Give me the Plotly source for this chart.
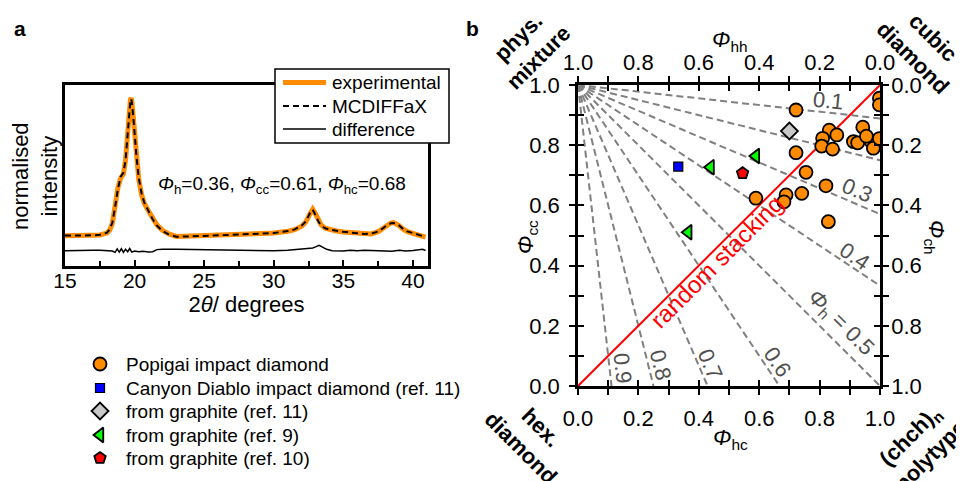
import plotly.graph_objects as go

# ---------------- panel a data ----------------
two_theta = [15.0, 15.5, 16.0, 16.5, 17.0, 17.5, 18.0, 18.2, 18.4, 18.6, 18.8, 19.0, 19.2, 19.35,
             19.5, 19.6, 19.7, 19.75, 19.8, 19.9, 20.0, 20.15, 20.3, 20.5, 20.7, 21.0, 21.3, 21.6,
             22.0, 22.5, 23.0, 24.0, 25.0, 26.0, 27.0, 28.0, 29.0, 30.0, 31.0, 31.5, 32.0, 32.3,
             32.6, 32.8, 33.0, 33.2, 33.4, 33.7, 34.0, 34.5, 35.0, 36.0, 36.5, 37.0, 37.5, 37.8,
             38.1, 38.4, 38.6, 38.8, 39.0, 39.3, 39.6, 40.0, 40.4, 40.9]
experimental = [0.0, 0.0, -0.003, 0.002, 0.003, 0.006, 0.02, 0.04, 0.09, 0.22, 0.35, 0.42, 0.45, 0.55,
                0.77, 0.9, 0.99, 1.0, 0.98, 0.87, 0.73, 0.55, 0.41, 0.30, 0.235, 0.18, 0.125, 0.08,
                0.04, 0.012, -0.004, 0.0, 0.004, 0.008, 0.012, 0.016, 0.018, 0.02, 0.034, 0.045, 0.07, 0.10,
                0.16, 0.193, 0.16, 0.115, 0.08, 0.055, 0.045, 0.035, 0.028, 0.018, 0.012, 0.014, 0.03, 0.05,
                0.075, 0.093, 0.096, 0.088, 0.075, 0.048, 0.03, 0.018, 0.008, -0.01]
mcdiffax = [0.002, 0.002, 0.0, 0.002, 0.004, 0.008, 0.022, 0.045, 0.095, 0.21, 0.34, 0.43, 0.46, 0.55,
            0.76, 0.9, 0.985, 0.995, 0.975, 0.87, 0.73, 0.56, 0.42, 0.31, 0.24, 0.18, 0.12, 0.075,
            0.035, 0.008, -0.006, -0.004, 0.0, 0.005, 0.01, 0.014, 0.017, 0.02, 0.035, 0.047, 0.073, 0.105,
            0.165, 0.19, 0.15, 0.105, 0.075, 0.055, 0.046, 0.036, 0.029, 0.019, 0.014, 0.016, 0.032, 0.052,
            0.076, 0.091, 0.094, 0.088, 0.076, 0.05, 0.032, 0.02, 0.008, -0.008]
two_theta_diff = [15.0, 15.5, 16.0, 16.5, 17.0, 17.5, 18.0, 18.4, 18.6, 18.75, 18.9, 19.05, 19.2, 19.35,
                  19.5, 19.65, 19.8, 20.0, 20.3, 20.6, 21.0, 21.3, 21.6, 22.0, 23.0, 24.0, 25.0, 26.0,
                  27.0, 28.0, 29.0, 30.0, 31.0, 31.5, 32.0, 32.4, 32.8, 33.0, 33.25, 33.5, 33.8, 34.2,
                  35.0, 35.5, 36.0, 36.5, 37.0, 37.5, 38.0, 38.5, 39.0, 39.5, 40.0, 40.5, 40.7, 40.9]
difference = [-0.108, -0.106, -0.108, -0.105, -0.104, -0.104, -0.106, -0.11, -0.12, -0.095, -0.118, -0.094,
              -0.12, -0.097, -0.115, -0.092, -0.118, -0.11, -0.115, -0.112, -0.118, -0.115, -0.10, -0.097,
              -0.098, -0.10, -0.103, -0.105, -0.105, -0.108, -0.11, -0.108, -0.105, -0.10, -0.095, -0.09,
              -0.088, -0.08, -0.068, -0.082, -0.098, -0.108, -0.11, -0.105, -0.108, -0.105, -0.107, -0.11,
              -0.11, -0.112, -0.105, -0.11, -0.106, -0.104, -0.098, -0.106]

# ---------------- panel b data ----------------
popigai_hc = [0.722, 0.832, 0.857, 0.810, 0.807, 0.843, 0.722, 0.755, 0.821, 0.741, 0.689, 0.682,
              0.589, 0.829, 0.943, 0.912, 0.926, 0.969, 0.978, 0.998, 0.998, 0.998, 0.955]
popigai_cc = [0.917, 0.850, 0.834, 0.823, 0.797, 0.787, 0.775, 0.710, 0.665, 0.640, 0.635, 0.612,
              0.624, 0.546, 0.860, 0.812, 0.808, 0.815, 0.790, 0.956, 0.934, 0.822, 0.830]
canyon_hc = [0.332]
canyon_cc = [0.729]
graphite11_hc = [0.700]
graphite11_cc = [0.847]
graphite9_hc = [0.589, 0.439, 0.365]
graphite9_cc = [0.764, 0.727, 0.511]
graphite10_hc = [0.545]
graphite10_cc = [0.707]

# iso-Phi_h lines: all start at (Phi_hc=0, Phi_cc=1)
iso_levels = ["0.1", "0.2", "0.3", "0.4", "0.5", "0.6", "0.7", "0.8", "0.9"]
iso_end_hc = [1.0, 1.0, 1.0, 1.0, 1.0, 0.667, 0.429, 0.25, 0.111]
iso_end_cc = [0.889, 0.75, 0.571, 0.333, 0.0, 0.0, 0.0, 0.0, 0.0]
random_hc = [0.0, 1.0]
random_cc = [0.0, 1.0]

legend_a_names = ["experimental", "MCDIFFaX", "difference"]
legend_b_names = ["Popigai impact diamond", "Canyon Diablo impact diamond (ref. 11)",
                  "from graphite (ref. 11)", "from graphite (ref. 9)", "from graphite (ref. 10)"]

FONT = "Arial, Liberation Sans, sans-serif"
ORANGE = "#FF8C00"
PAGE_W, PAGE_H = 964, 481
OFF = 8  # default body margin of the html page
W, H = PAGE_W - OFF, PAGE_H - OFF


def px(x):
    return (x - OFF) / W


def py(y):
    return 1 - (y - OFF) / H


fig = go.Figure()

# panel a
line_styles_a = [dict(color=ORANGE, width=5), dict(color="black", width=2, dash="6px,4px"),
                 dict(color="black", width=1.5)]
fig.add_trace(go.Scatter(x=two_theta, y=experimental, mode="lines", name=legend_a_names[0],
                         line=line_styles_a[0], xaxis="x", yaxis="y", showlegend=False))
fig.add_trace(go.Scatter(x=two_theta, y=mcdiffax, mode="lines", name=legend_a_names[1],
                         line=line_styles_a[1], xaxis="x", yaxis="y", showlegend=False))
fig.add_trace(go.Scatter(x=two_theta_diff, y=difference, mode="lines", name=legend_a_names[2],
                         line=line_styles_a[2], xaxis="x", yaxis="y", showlegend=False))

# panel b lines
for lev, ehc, ecc in zip(iso_levels, iso_end_hc, iso_end_cc):
    fig.add_trace(go.Scatter(x=[0.0, ehc], y=[1.0, ecc], mode="lines", showlegend=False,
                             name="Φh = " + lev,
                             line=dict(color="#808080", width=2, dash="7px,4px"),
                             xaxis="x2", yaxis="y2", hoverinfo="skip"))
fig.add_trace(go.Scatter(x=random_hc, y=random_cc, mode="lines", showlegend=False, name="random stacking",
                         line=dict(color="#FF0000", width=2), xaxis="x2", yaxis="y2"))

mline = dict(color="black", width=1.8)
marker_styles = [
    dict(symbol="circle", size=13, color=ORANGE, line=mline),
    dict(symbol="square", size=9, color="#0000FF", line=dict(color="black", width=1.2)),
    dict(symbol="diamond", size=13, color="#C8C8C8", line=mline),
    dict(symbol="triangle-left", size=13, color="#00FF00", line=mline),
    dict(symbol="pentagon", size=12, color="#FF0000", line=mline),
]
series_b = [(popigai_hc, popigai_cc), (canyon_hc, canyon_cc), (graphite11_hc, graphite11_cc),
            (graphite9_hc, graphite9_cc), (graphite10_hc, graphite10_cc)]
for (xs, ys), name, ms in zip(series_b, legend_b_names, marker_styles):
    fig.add_trace(go.Scatter(x=xs, y=ys, mode="markers", name=name, marker=ms,
                             xaxis="x2", yaxis="y2", showlegend=False))

# register the secondary (top / right) axes of panel b
fig.add_trace(go.Scatter(x=[], y=[], xaxis="x3", yaxis="y3", showlegend=False, hoverinfo="skip"))

# legend keys of panel b (helper axis in page pixels)
leg_b_x = 100
leg_b_rows = [364, 388, 411, 435, 458]
for yy, name, ms in zip(leg_b_rows, legend_b_names, marker_styles):
    fig.add_trace(go.Scatter(x=[leg_b_x], y=[yy], mode="markers", marker=ms, name=name,
                             xaxis="x4", yaxis="y4", showlegend=False, hoverinfo="skip"))

tickfont_a = dict(family=FONT, size=21, color="black")
tickfont_b = dict(family=FONT, size=22, color="black")
title_font = dict(family=FONT, size=22, color="black")
common_b = dict(range=[0, 1], dtick=0.2, tick0=0, tickformat=".1f", showgrid=False, zeroline=False,
                showline=True, linecolor="black", linewidth=2.5, tickwidth=2, ticklen=6,
                tickcolor="black", tickfont=tickfont_b, mirror="ticks", automargin=False)
minor_out = dict(ticks="outside", dtick=0.1, ticklen=6, tickwidth=2, tickcolor="black")
minor_in = dict(ticks="inside", dtick=0.1, ticklen=6, tickwidth=2, tickcolor="black")

fig.update_layout(
    width=W, height=H, margin=dict(l=0, r=0, t=0, b=0, pad=0, autoexpand=False),
    paper_bgcolor="white", plot_bgcolor="rgba(0,0,0,0)",
    font=dict(family=FONT, color="black"),
    showlegend=False,
    xaxis=dict(domain=[px(65), px(428)], range=[15, 41.08], anchor="y", dtick=5, tick0=15,
               showline=True, linecolor="black", linewidth=2.5, mirror=True, ticks="inside",
               ticklen=6, tickwidth=2, tickcolor="black", automargin=False,
               minor=dict(ticks="inside", dtick=2.5, tick0=15, ticklen=5, tickwidth=2, tickcolor="black"),
               showgrid=False, zeroline=False, tickfont=tickfont_a, ticklabelstandoff=-6,
               title=dict(text="2<i>θ</i>/ degrees", font=title_font, standoff=0)),
    yaxis=dict(domain=[py(266), py(85)], range=[-0.219, 1.096], anchor="x", showline=True,
               linecolor="black", linewidth=2.5, mirror=True, ticks="", showticklabels=False,
               showgrid=False, zeroline=False, automargin=False),
    xaxis2=dict(domain=[px(578), px(880)], anchor="y2", ticks="outside", ticklabelstandoff=5,
                minor=minor_out, **common_b),
    xaxis3=dict(overlaying="x2", side="top", anchor="y2", ticks="inside", ticklabelstandoff=3,
                minor=minor_in, **{**common_b, "range": [1, 0]}),
    yaxis2=dict(domain=[py(386), py(85)], anchor="x2", ticks="outside", ticklabelstandoff=5,
                minor=minor_out, **common_b),
    yaxis3=dict(overlaying="y2", side="right", anchor="x2", ticks="inside", ticklabelstandoff=4,
                minor=minor_in, **{**common_b, "range": [1, 0]}),
    xaxis4=dict(domain=[0, 1], range=[OFF, PAGE_W], anchor="y4", visible=False, fixedrange=True,
                automargin=False),
    yaxis4=dict(domain=[0, 1], range=[PAGE_H, OFF], anchor="x4", visible=False, fixedrange=True,
                automargin=False),
)

shapes = []
# legend box of panel a
shapes.append(dict(type="rect", xref="paper", yref="paper", x0=px(275), x1=px(449), y0=py(143), y1=py(69),
                   line=dict(color="black", width=1.5), fillcolor="white", layer="above"))
leg_a_rows = [82.5, 106, 129]
for yy, st in zip(leg_a_rows, line_styles_a):
    shapes.append(dict(type="line", xref="paper", yref="paper", x0=px(283), x1=px(326), y0=py(yy), y1=py(yy),
                       line=st, layer="above"))
fig.update_layout(shapes=shapes)

ann = []


def a(text, x, y, size=22, angle=0, color="black", xref="paper", yref="paper", xanchor="center"):
    ann.append(dict(text=text, x=x, y=y, xref=xref, yref=yref, showarrow=False, textangle=angle,
                    font=dict(family=FONT, size=size, color=color), xanchor=xanchor, yanchor="middle"))


for yy, name in zip(leg_a_rows, legend_a_names):
    a(name, px(330), py(yy), size=19, xanchor="left")
for yy, name in zip(leg_b_rows, legend_b_names):
    a(name, px(124), py(yy), size=19, xanchor="left")

a("normalised<br>intensity", px(35), py(176), size=22, angle=-90)
a("<b>a</b>", px(20), py(28), size=21)
a("<b>b</b>", px(472), py(28), size=21)
a("<i>Φ</i><sub>h</sub>=0.36, <i>Φ</i><sub>cc</sub>=0.61, <i>Φ</i><sub>hc</sub>=0.68", px(282), py(185), size=19)

# panel b axis titles
a("<i>Φ</i><sub>hh</sub>", px(730), py(41), size=22)
a("<i>Φ</i><sub>hc</sub>", px(730), py(439), size=22)
a("<i>Φ</i><sub>cc</sub>", px(527), py(237), size=22, angle=-90)
a("<i>Φ</i><sub>ch</sub>", px(935), py(237), size=22, angle=90)

# corner labels
a("<b>phys.<br>mixture</b>", px(528), py(48), size=22, angle=-45)
a("<b>cubic<br>diamond</b>", px(923), py(48), size=22, angle=45)
a("<b>hex.<br>diamond</b>", px(531), py(438), size=22, angle=45)
a("<b>(chch)<sub>n</sub><br>polytype</b>", px(920), py(446), size=22, angle=-45)

grey = "#505050"
labels_b = [("0.1", 0.828, 0.950, 6), ("0.3", 0.927, 0.651, 23), ("0.4", 0.917, 0.429, 34),
            ("<i>Φ</i><sub>h</sub> = 0.5", 0.868, 0.209, 45), ("0.6", 0.659, 0.080, 56),
            ("0.7", 0.437, 0.070, 67), ("0.8", 0.272, 0.070, 76), ("0.9", 0.146, 0.060, 84)]
for t, x, y, ang in labels_b:
    a(t, x, y, size=22, angle=ang, color=grey, xref="x2", yref="y2")
a("random stacking", 0.46, 0.412, size=24, angle=-45, color="#FF0000", xref="x2", yref="y2")

fig.update_layout(annotations=ann)
fig.write_html("out.html")
